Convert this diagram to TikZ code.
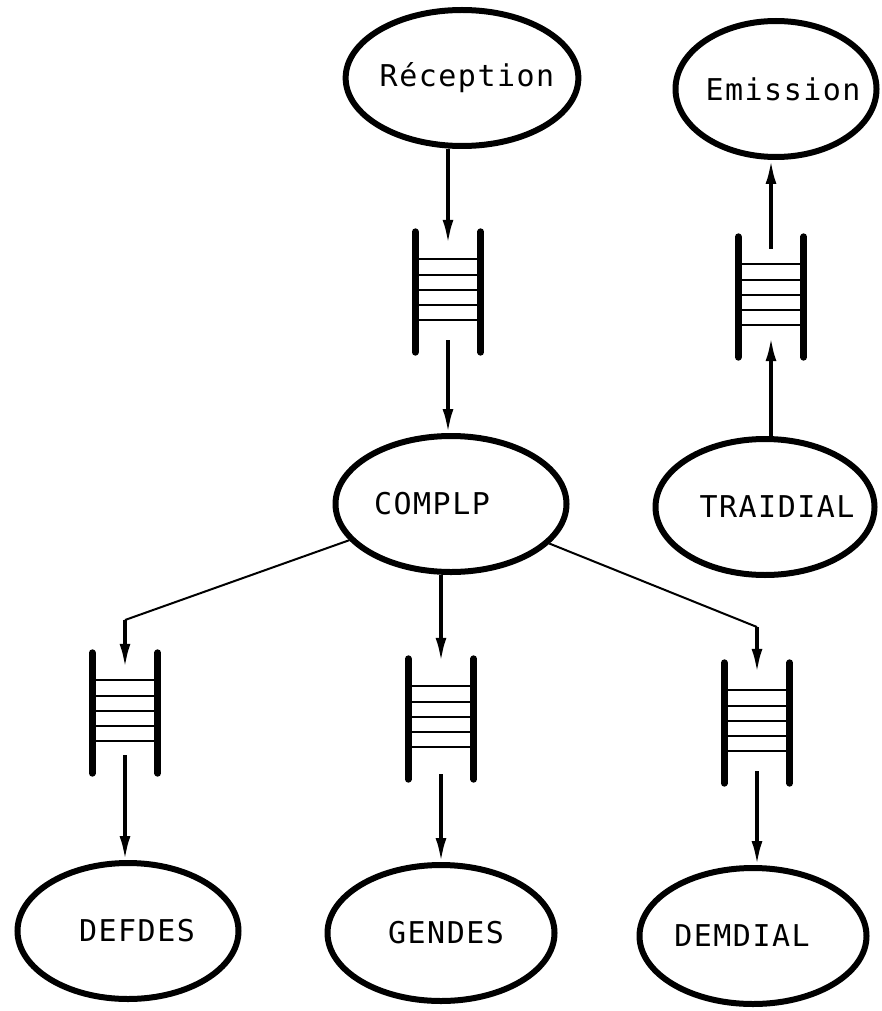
\documentclass[tikz,border=0pt]{standalone}
\usepackage{fontspec}
\newfontfamily\dotfont[LetterSpace=5]{DejaVu Sans Mono}
\usetikzlibrary{shapes.geometric,arrows.meta,calc}
\tikzset{
  proc/.style={ellipse, draw, line width=6pt, minimum width=#1, minimum height=136pt,
    inner sep=0pt, font={\dotfont\fontsize{30}{30}\selectfont}},
  fifo/.style={minimum width=65pt, minimum height=120pt, inner sep=0pt},
  bar/.style={line width=7pt, line cap=round},
  rung/.style={line width=2pt},
  flow/.style={line width=3.5pt, -{Latex[length=24pt,width=11pt]}},
  link/.style={line width=2pt},
}
% shift text left (\tleft) or right (\tright) inside its node
\newcommand\tleft[2]{\hspace*{-#1pt}\hspace*{-#1pt}#2}
\newcommand\tright[2]{#2\hspace*{-#1pt}\hspace*{-#1pt}}
\newcommand\fifo[3]{%
  \node[fifo] (#1) at (#2,#3) {};
  \foreach \dy in {-33,-17,-2,13,28}
    \draw[rung] ($(#1.west)+(0,\dy)$) -- ($(#1.east)+(0,\dy)$);
  \draw[bar] (#1.north west) -- (#1.south west);
  \draw[bar] (#1.north east) -- (#1.south east);
}
\begin{document}
\begin{tikzpicture}[x=1pt,y=-1pt]
\useasboundingbox[fill=white] (0,0) rectangle (881,1011);

% processes
\node[proc=219pt] (rec)  at (462,78)  {\tright{5}{Réception}};
\node[proc=201pt] (emi)  at (776,89)  {\tright{7}{Emission}};
\node[proc=231pt] (comp) at (451,504) {\tleft{19}{COMPLP}};
\node[proc=219pt] (trai) at (765,507) {\tright{12}{TRAIDIAL}};
\node[proc=221pt] (defd) at (128,931) {\tright{9}{DEFDES}};
\node[proc=227pt] (gend) at (441,933) {\tright{5}{GENDES}};
\node[proc=227pt] (demd) at (753,936) {\tleft{11}{DEMDIAL}};

% queues
\fifo{q1}{448}{292}
\fifo{q2}{771}{297}
\fifo{q3}{125}{713}
\fifo{q4}{441}{719}
\fifo{q5}{757}{723}

% Reception -> queue -> COMPLP
\draw[flow] (q1.north |- rec.south) -- ($(q1.north)+(0,12)$);
\draw[flow] ($(q1.south)+(0,-12)$) -- (q1.south |- comp.north);

% TRAIDIAL -> queue -> Emission
\draw[flow] (q2.south |- trai.north) -- ($(q2.south)+(0,-20)$);
\draw[flow] ($(q2.north)+(0,12)$) -- (q2.north |- emi.south);

% COMPLP -> DEFDES
\coordinate (c1) at (125,620);
\draw[link] (comp) -- (c1);
\draw[flow] (c1) -- ($(q3.north)+(0,15)$);
\draw[flow] ($(q3.south)+(0,-18)$) -- (q3.south |- defd.north);

% COMPLP -> GENDES
\draw[flow] (q4.north |- comp.south) -- ($(q4.north)+(0,3)$);
\draw[flow] ($(q4.south)+(0,-5)$) -- (q4.south |- gend.north);

% COMPLP -> DEMDIAL
\coordinate (c2) at (757,627);
\draw[link] (comp) -- (c2);
\draw[flow] (c2) -- ($(q5.north)+(0,10)$);
\draw[flow] ($(q5.south)+(0,-12)$) -- (q5.south |- demd.north);
\end{tikzpicture}
\end{document}
